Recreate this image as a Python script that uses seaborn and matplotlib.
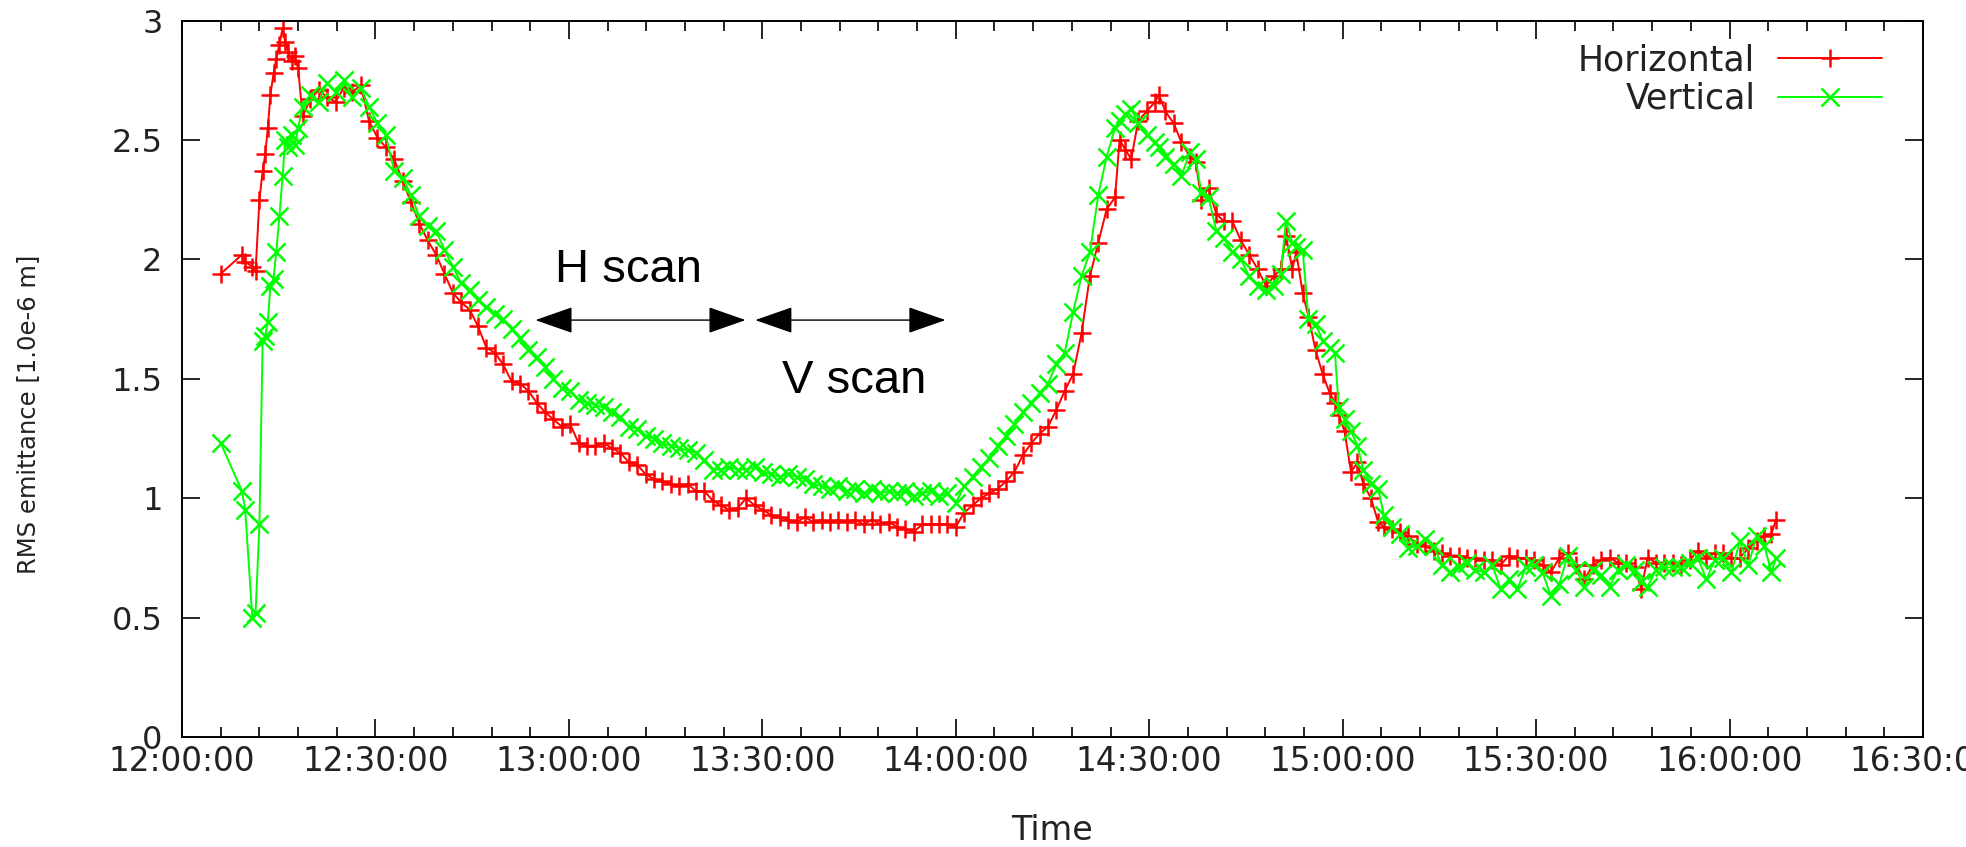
import matplotlib
matplotlib.use("Agg")
import matplotlib.pyplot as plt
import matplotlib.ticker as ticker
from matplotlib.lines import Line2D
import pandas as pd
import seaborn as sns

# minutes after 12:00:00, shared by both planes
minutes = [
    6.0, 9.3, 9.8, 10.9, 11.4, 12.0, 12.5, 12.9, 13.3, 13.7, 14.2, 14.6, 15.1, 15.6,
    16.0, 16.5, 17.0, 17.5, 18.0, 18.7, 19.9, 21.2, 22.5, 23.8, 25.1, 26.4, 27.7,
    29.0, 30.3, 31.6, 32.9, 34.2, 35.5, 36.8, 38.1, 39.4, 40.7, 42.0, 43.3, 44.6,
    45.9, 47.2, 48.5, 49.8, 51.1, 52.4, 53.7, 55.0, 56.3, 57.6, 58.9, 60.2, 61.5,
    62.8, 64.1, 65.4, 66.7, 68.0, 69.3, 70.6, 71.9, 73.2, 74.5, 75.8, 77.1, 78.4,
    79.7, 81.0, 82.3, 83.6, 84.9, 86.2, 87.5, 88.8, 90.1, 91.4, 92.7, 94.0, 95.3,
    96.6, 97.9, 99.2, 100.5, 101.8, 103.1, 104.4, 105.7, 107.0, 108.3, 109.6, 110.9,
    112.2, 113.5, 114.8, 116.1, 117.4, 118.7, 120.0, 121.3, 122.6, 123.9, 125.2,
    126.5, 127.8, 129.1, 130.4, 131.7, 133.0, 134.3, 135.6, 136.9, 138.2, 139.5,
    140.8, 142.1, 143.4, 144.7, 145.4, 146.3, 147.2, 148.3, 149.6, 150.9, 151.5,
    152.5, 153.8, 155.0, 156.3, 157.2, 158.1, 159.2, 160.4, 161.6, 162.9, 164.2,
    165.5, 166.8, 168.1, 169.4, 170.4, 171.2, 172.2, 172.8, 173.8, 174.7, 175.8,
    176.9, 178.0, 178.8, 179.4, 180.3, 181.3, 182.3, 183.2, 184.4, 185.5, 186.4,
    187.6, 188.9, 190.2, 191.5, 192.8, 194.1, 195.4, 196.7, 198.0, 199.3, 200.6,
    201.9, 203.2, 204.5, 205.8, 207.1, 208.4, 209.7, 211.0, 212.3, 213.6, 214.9,
    216.2, 217.5, 218.8, 220.1, 221.4, 222.7, 224.0, 225.3, 226.3, 227.3, 228.6,
    229.9, 231.2, 232.5, 233.8, 235.1, 236.4, 237.7, 239.0, 240.3, 241.6, 242.9,
    244.2, 245.4, 246.5, 247.2,
]

horizontal = [
    1.94, 2.02, 1.99, 1.97, 1.95, 2.25, 2.37, 2.44, 2.55, 2.69, 2.78, 2.84, 2.90, 2.97,
    2.91, 2.87, 2.83, 2.85, 2.80, 2.60, 2.67, 2.71, 2.68, 2.66, 2.72, 2.70, 2.73,
    2.58, 2.51, 2.47, 2.42, 2.33, 2.24, 2.15, 2.08, 2.02, 1.94, 1.86, 1.82, 1.79,
    1.72, 1.63, 1.61, 1.56, 1.49, 1.48, 1.45, 1.40, 1.36, 1.33, 1.30, 1.31, 1.23,
    1.22, 1.22, 1.23, 1.21, 1.19, 1.15, 1.14, 1.10, 1.08, 1.07, 1.06, 1.05, 1.06,
    1.03, 1.03, 0.99, 0.97, 0.95, 0.96, 1.00, 0.97, 0.95, 0.93, 0.92, 0.91, 0.90,
    0.92, 0.90, 0.91, 0.90, 0.91, 0.90, 0.91, 0.89, 0.91, 0.89, 0.90, 0.88,
    0.87, 0.86, 0.89, 0.89, 0.89, 0.89, 0.88, 0.94, 0.97, 1.00, 1.02,
    1.04, 1.07, 1.11, 1.18, 1.23, 1.27, 1.30, 1.37, 1.45, 1.52, 1.69,
    1.93, 2.07, 2.21, 2.26, 2.50, 2.46, 2.42, 2.58, 2.62, 2.66, 2.69,
    2.62, 2.57, 2.49, 2.43, 2.41, 2.25, 2.30, 2.19, 2.16, 2.16, 2.08,
    2.02, 1.96, 1.89, 1.93, 1.96, 2.10, 1.96, 2.03, 1.86, 1.76, 1.62,
    1.52, 1.44, 1.40, 1.35, 1.28, 1.11, 1.15, 1.06, 1.00, 0.90, 0.88,
    0.87, 0.86, 0.84, 0.81, 0.80, 0.78, 0.77, 0.76, 0.76, 0.75, 0.75,
    0.74, 0.74, 0.72, 0.76, 0.75, 0.75, 0.74, 0.72, 0.69, 0.75, 0.77,
    0.72, 0.66, 0.72, 0.74, 0.75, 0.73, 0.73, 0.71, 0.62, 0.75, 0.73,
    0.73, 0.73, 0.72, 0.74, 0.78, 0.75, 0.77, 0.77, 0.75, 0.75, 0.79,
    0.82, 0.84, 0.85, 0.91,
]

vertical = [
    1.23, 1.03, 0.95, 0.50, 0.52, 0.89, 1.66, 1.68, 1.74, 1.89, 1.92, 2.03, 2.18, 2.35,
    2.50, 2.47, 2.52, 2.48, 2.55, 2.64, 2.69, 2.66, 2.74, 2.70, 2.75, 2.68, 2.72,
    2.64, 2.57, 2.52, 2.37, 2.34, 2.27, 2.18, 2.14, 2.12, 2.04, 1.97, 1.90, 1.87,
    1.83, 1.80, 1.77, 1.75, 1.71, 1.67, 1.62, 1.59, 1.55, 1.50, 1.46, 1.45, 1.41,
    1.40, 1.39, 1.38, 1.36, 1.34, 1.30, 1.29, 1.26, 1.25, 1.23, 1.22, 1.21, 1.20,
    1.19, 1.16, 1.12, 1.12, 1.13, 1.12, 1.12, 1.13, 1.11, 1.10, 1.09, 1.10, 1.09,
    1.08, 1.06, 1.05, 1.04, 1.05, 1.03, 1.04, 1.02, 1.04, 1.02, 1.03, 1.02,
    1.03, 1.01, 1.02, 1.03, 1.01, 1.02, 0.98, 1.05, 1.09, 1.13, 1.17,
    1.22, 1.26, 1.31, 1.36, 1.40, 1.44, 1.48, 1.56, 1.61, 1.78, 1.93,
    2.03, 2.27, 2.43, 2.55, 2.58, 2.61, 2.63, 2.57, 2.52, 2.49, 2.47,
    2.43, 2.40, 2.35, 2.45, 2.42, 2.28, 2.26, 2.12, 2.09, 2.03, 2.00,
    1.93, 1.89, 1.87, 1.89, 1.94, 2.16, 2.07, 2.05, 2.04, 1.75, 1.73,
    1.66, 1.63, 1.61, 1.38, 1.33, 1.28, 1.22, 1.12, 1.06, 1.04, 0.93,
    0.88, 0.85, 0.79, 0.80, 0.83, 0.80, 0.72, 0.69, 0.71, 0.73, 0.70,
    0.69, 0.72, 0.62, 0.66, 0.62, 0.71, 0.72, 0.69, 0.59, 0.64, 0.76,
    0.70, 0.63, 0.70, 0.68, 0.63, 0.70, 0.72, 0.70, 0.65, 0.63, 0.70,
    0.71, 0.71, 0.71, 0.73, 0.75, 0.66, 0.74, 0.75, 0.69, 0.82, 0.72,
    0.84, 0.80, 0.69, 0.75,
]

tick_minutes = [0, 30, 60, 90, 120, 150, 180, 210, 240, 270]
tick_labels = ["12:00:00", "12:30:00", "13:00:00", "13:30:00", "14:00:00",
               "14:30:00", "15:00:00", "15:30:00", "16:00:00", "16:30:00"]
y_ticks = [0, 0.5, 1, 1.5, 2, 2.5, 3]
y_labels = ["0", "0.5", "1", "1.5", "2", "2.5", "3"]

# scan windows (minutes after 12:00) and the level of the arrows
h_scan = (54.8, 87.4)
v_scan = (88.9, 118.4)
arrow_level = 1.746

sns.set_theme(style="white")
plt.rcParams["font.family"] = ["DejaVu Sans"]

df = pd.DataFrame({
    "minutes": minutes + minutes,
    "emittance": horizontal + vertical,
    "plane": ["Horizontal"] * len(minutes) + ["Vertical"] * len(minutes),
})

colors = {"Horizontal": "#ff0000", "Vertical": "#00ff00"}
markers = {"Horizontal": "+", "Vertical": "x"}

fig = plt.figure(figsize=(19.66, 8.47), dpi=100)
ax = fig.add_axes([0.0926, 0.1299, 0.8855, 0.8457])

sns.lineplot(data=df, x="minutes", y="emittance", hue="plane", style="plane",
             palette=colors, markers=markers, dashes=False, estimator=None,
             sort=False, linewidth=1.4, markersize=13.5, legend=False, ax=ax)
for line in ax.lines:
    line.set_markeredgecolor(line.get_color())
    line.set_markeredgewidth(1.8)

ax.set_xlim(0, 270)
ax.set_ylim(0, 3)
ax.set_xticks(tick_minutes, tick_labels)
ax.xaxis.set_minor_locator(ticker.MultipleLocator(6))
ax.set_yticks(y_ticks, y_labels)

ax.tick_params(which="both", direction="in", top=True, right=True,
               bottom=True, left=True, color="black", width=1.2)
ax.tick_params(which="major", length=13)
ax.tick_params(which="minor", length=7)
ax.tick_params(axis="x", labelsize=23.5, pad=6, labelcolor="#222222")
ax.tick_params(axis="y", labelsize=23, pad=14, labelcolor="#222222")
for s in ax.spines.values():
    s.set_linewidth(1.4)
    s.set_color("black")

ax.set_xlabel("Time", fontsize=24, color="#222222")
ax.set_ylabel("RMS emittance [1.0e-6 m]", fontsize=17.5, color="#222222")
ax.xaxis.set_label_coords(0.5, -0.108)
ax.yaxis.set_label_coords(-0.0815, 0.45)

# legend in gnuplot style: text first, right aligned
handles = [Line2D([], [], color=colors[p], marker=markers[p], markersize=13.5,
                  markeredgewidth=1.8, linewidth=1.4) for p in colors]
ax.legend(handles, list(colors), loc="upper right", bbox_to_anchor=(0.9765, 0.968),
          frameon=False, markerfirst=False, fontsize=25, handlelength=3.0,
          handletextpad=0.65, labelspacing=0.12, borderpad=0, borderaxespad=0,
          labelcolor="#222222")

arrow_style = dict(arrowstyle="<|-|>,head_length=1.2,head_width=0.42",
                   mutation_scale=20, color="black", lw=1.0, shrinkA=0, shrinkB=0)
ax.annotate("", xy=(h_scan[1], arrow_level), xytext=(h_scan[0], arrow_level),
            arrowprops=arrow_style)
ax.annotate("", xy=(v_scan[1], arrow_level), xytext=(v_scan[0], arrow_level),
            arrowprops=arrow_style)
ax.text(57.9, 1.905, "H scan", fontsize=34, family=["Liberation Sans"],
        ha="left", va="baseline", color="black")
ax.text(93.1, 1.44, "V scan", fontsize=34, family=["Liberation Sans"],
        ha="left", va="baseline", color="black")

fig.savefig("out.png", dpi=100)
